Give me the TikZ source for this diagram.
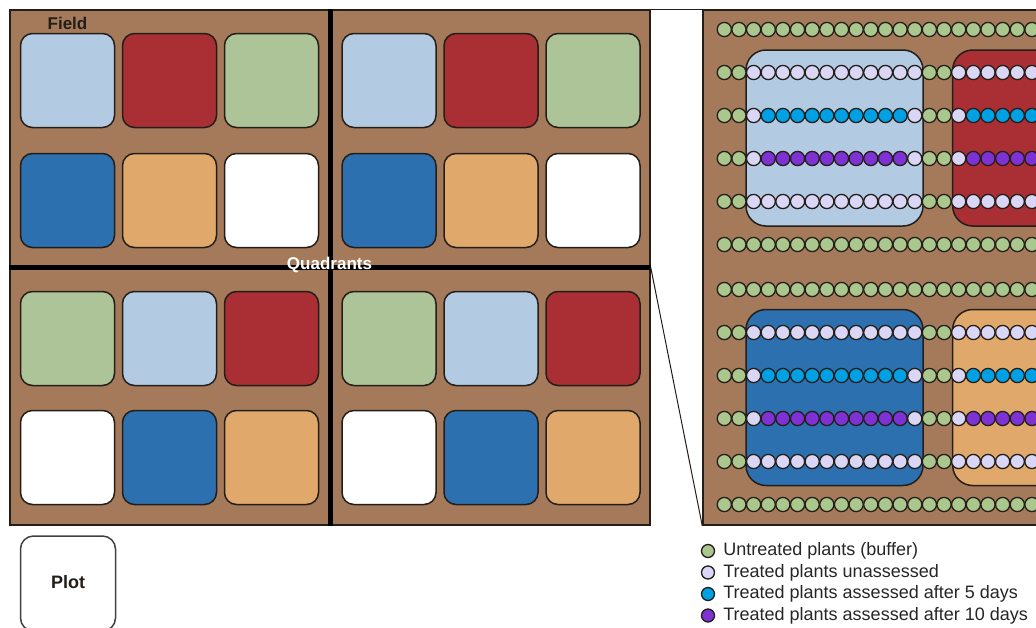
\documentclass[tikz,border=0pt]{standalone}
\usepackage{fontspec}
\setmainfont{Liberation Sans}
\usetikzlibrary{positioning}
\definecolor{soil}{RGB}{165,122,90}
\definecolor{edge}{RGB}{35,30,25}
\definecolor{paleblue}{RGB}{178,203,226}
\definecolor{plotred}{RGB}{170,47,52}
\definecolor{sage}{RGB}{172,196,152}
\definecolor{deepblue}{RGB}{44,112,176}
\definecolor{sand}{RGB}{224,169,107}
\definecolor{buffergreen}{RGB}{170,199,142}
\definecolor{lavender}{RGB}{218,214,246}
\definecolor{fivecyan}{RGB}{0,160,228}
\definecolor{tenpurple}{RGB}{127,50,212}
\tikzset{
  x=1pt, y=-1pt, % one unit is one pixel of the picture, y downwards
  plotbox/.style={draw=edge, line width=1.5pt, rounded corners=12pt,
    minimum width=94pt, minimum height=94pt, inner sep=0pt}, % one plot
  bigplot/.style={draw=edge, line width=1.5pt, rounded corners=20pt,
    minimum width=177pt, minimum height=176pt, inner sep=0pt}, % zoomed plot
  plant/.style={circle, draw=edge, line width=1.3pt, minimum size=14.2pt,
    inner sep=0pt}, % one plant
  buffer/.style={fill=buffergreen},
  unassessed/.style={fill=lavender},
  dayfive/.style={fill=fivecyan},
  dayten/.style={fill=tenpurple},
  label/.style={font=\fontsize{17}{20}\selectfont\bfseries, inner sep=0pt},
  legend/.style={font=\fontsize{18}{21}\selectfont, color=black!85,
    anchor=west, inner sep=0pt},
}

\begin{document}
\begin{tikzpicture}[divider/.style={line width=5pt, black}]
    \useasboundingbox[fill=white] (0,0) rectangle (1036,627);

    % the field and its four quadrants
    \node[draw=edge, line width=1.5pt, fill=soil, minimum width=640pt,
      minimum height=515pt, inner sep=0pt] (field) at (330,267.5) {};
    \foreach \qx/\qn in {0/w,321.5/e}
      \foreach \ry/\row [count=\r] in {80.5/{paleblue,plotred,sage},
          200.5/{deepblue,sand,white}, 338.5/{sage,paleblue,plotred},
          457.5/{white,deepblue,sand}}
        \foreach \c [count=\i] in \row
          \node[plotbox, fill=\c] (plot-\qn-\r-\i) at ({-34.5+102*\i+\qx},\ry) {};
    \draw[divider] (field.west) -- (field.east);
    \draw[divider] (field.north) -- (field.south);
    \node[label, text=edge] (field-name) at (67.5,23) {Field};
    \node[label, text=white] (quad-name) at (329.5,265.5) {Quadrants};

    % zoom on the north-east quadrant
    \begin{scope}
      \clip (0,0) rectangle (1036,627);
      \node[draw=edge, line width=1.5pt, fill=soil, minimum width=345pt,
        minimum height=515pt, inner sep=0pt] (panel) at (875.5,267.5) {};
      \node[bigplot, fill=paleblue] (big-1) at (834.5,138) {};
      \node[bigplot, fill=plotred] (big-2) at (1041.2,138) {};
      \node[bigplot, fill=deepblue] (big-3) at (834.5,397.5) {};
      \node[bigplot, fill=sand] (big-4) at (1041.2,397.5) {};
      \foreach \ry/\kind [count=\r] in {29.5/0, 72.5/1, 115.5/2, 158.5/3,
          201.5/1, 244.5/0, 289.5/0, 332.5/1, 375.5/2, 418.5/3, 461.5/1,
          504.5/0}
        \foreach \k in {0,...,21} {
          \pgfmathtruncatemacro{\m}{mod(\k,14)}
          \def\sty{buffer}
          \ifnum\kind>0 \ifnum\m>1
            \def\sty{unassessed}
            \ifnum\kind=2 \ifnum\m>2 \ifnum\m<13 \def\sty{dayfive}\fi\fi\fi
            \ifnum\kind=3 \ifnum\m>2 \ifnum\m<13 \def\sty{dayten}\fi\fi\fi
          \fi\fi
          \node[plant, \sty] (plant-\r-\k) at ({724.3+14.65*\k},\ry) {};
        }
    \end{scope}
    \draw[edge, line width=1pt] (field.north east) -- (panel.north west);
    \draw[edge, line width=1pt] (field.east) -- (panel.south west);

    % legend
    \foreach \sty/\txt [count=\i] in {buffer/Untreated plants (buffer),
        unassessed/Treated plants unassessed,
        dayfive/Treated plants assessed after 5 days,
        dayten/Treated plants assessed after 10 days} {
      \node[plant, \sty, minimum size=13pt] (key-\i) at (708,{529.5+21.5*\i}) {};
      \node[legend, right=8pt of key-\i] (key-text-\i) {\txt};
    }

    % a single plot
    \node[draw=black!75, line width=1.5pt, rounded corners=13pt,
      minimum width=95pt, minimum height=95pt, inner sep=0pt] (plot) at (68,583.5) {};
    \node[label, font=\fontsize{18}{21}\selectfont\bfseries, text=edge]
      (plot-name) at (68,582) {Plot};
\end{tikzpicture}
\end{document}
